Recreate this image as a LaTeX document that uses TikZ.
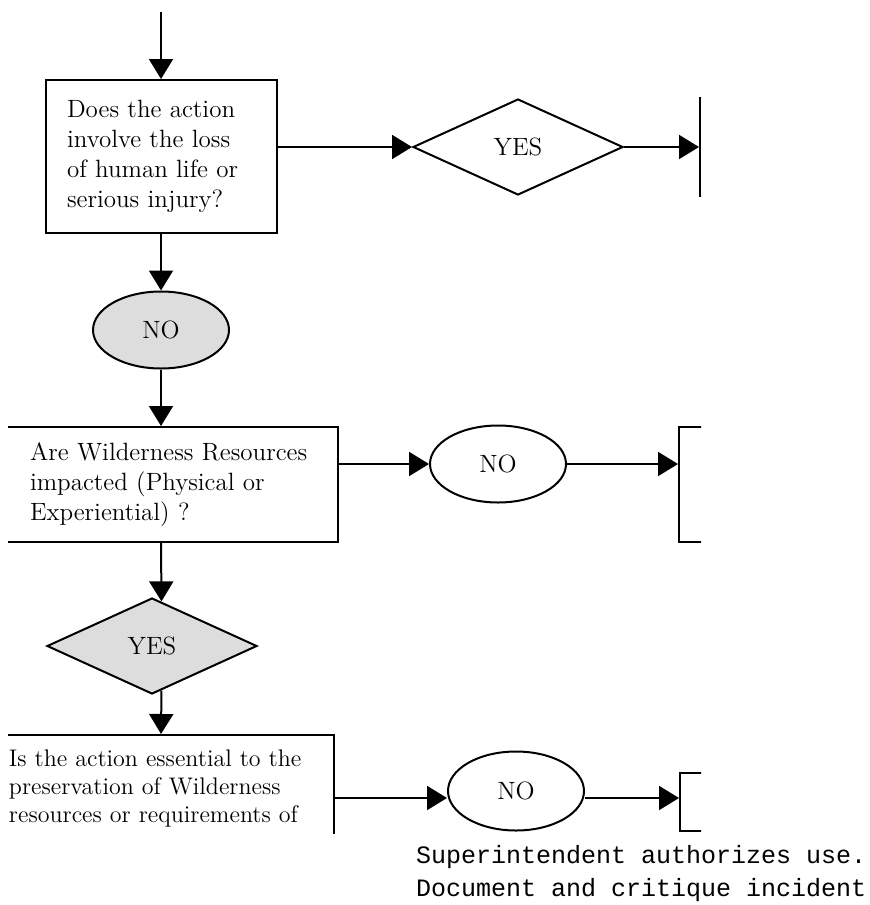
\documentclass[tikz,border=0pt]{standalone}
\usepackage{fontspec}
\setmonofont{Liberation Mono}
\usepackage{tikz}
\usetikzlibrary{arrows.meta,shapes.geometric}
\definecolor{FlowGray}{HTML}{DDDDDD}

\begin{document}
\begin{tikzpicture}[
    x=0.5pt, y=-0.5pt,
    line width=1pt,
    qbox/.style={draw, rectangle, align=left, inner ysep=0pt,
      font=\fontsize{12.5}{15}\selectfont},
    answer/.style={draw, inner sep=0pt, font=\fontsize{12.5}{14}\selectfont},
    yesdia/.style={answer, diamond, minimum width=105pt, minimum height=48pt},
    noell/.style={answer, ellipse, minimum width=68pt, minimum height=38.5pt},
    cutbox/.style={draw, rectangle, minimum width=100pt},
    arr/.style={-{Triangle[length=10pt,width=12pt]}}
  ]
  \useasboundingbox (0,0) rectangle (869,905);
  \coordinate (entry) at (161,12);
  \coordinate (spine) at (161,0);
  \coordinate (row1) at (0,147);
  \coordinate (row2) at (0,464);
  \coordinate (row3) at (0,798);

  % first question
  \node[qbox, minimum width=115.5pt, minimum height=76.5pt, text width=94.5pt,
    inner xsep=10.5pt] (q1) at (161.5,156.5)
    {Does the action\\involve the loss\\of human life or\\serious injury?};
  \node[yesdia] (yes1) at (518,147) {YES};
  \node[noell, fill=FlowGray] (no1) at (161,330) {NO};

  % boxes cut off by the page edge
  \begin{scope}
    \clip (8,0) rectangle (701,833);
    \node[qbox, minimum width=166pt, minimum height=57.5pt, text width=142pt,
      inner xsep=12pt] (q2) at (172,484.5)
      {Are Wilderness Resources\\impacted (Physical or\\Experiential) ?};
    \node[qbox, anchor=north west, font=\fontsize{12}{14}\selectfont,
      text width=161.5pt, inner xsep=1pt, inner ysep=7.2pt] (q3) at (6,734)
      {Is the action essential to the\\preservation of Wilderness\\resources or requirements of};
    \node[cutbox, minimum height=49pt] (act1) at (800,147) {};
    \node[cutbox, minimum height=57.5pt] (act2) at (779,484.5) {};
    \node[cutbox, minimum height=29pt] (act3) at (780,802) {};
  \end{scope}

  \node[yesdia, fill=FlowGray] (yes2) at (152,646) {YES};
  \node[noell] (no2) at (498,464) {NO};
  \node[noell, minimum height=39.5pt] (no3) at (516,791) {NO};

  \node[anchor=north west, align=left, inner sep=0pt,
    font=\ttfamily\fontsize{12.5}{16.5}\selectfont] (auth) at (415,844)
    {Superintendent authorizes use.\\Document and critique incident};

  % connectors
  \draw[arr] (entry) -- (q1.north -| entry);
  \draw[arr] (q1.east |- row1) -- (yes1.west);
  \draw[arr] (yes1.east) -- (act1.west);
  \draw[arr] (q1.south -| spine) -- (no1.north);
  \draw[arr] (no1.south) -- (q2.north -| spine);
  \draw[arr] (q2.east |- row2) -- (no2.west);
  \draw[arr] (no2.east) -- (act2.west |- row2);
  \draw[arr] (q2.south -| spine) -- (yes2.78.4);
  \draw[arr] (yes2.-78.4) -- (q3.north -| spine);
  \draw[arr] (q3.east |- row3) -- (no3.west |- row3);
  \draw[arr] (no3.east |- row3) -- (act3.west |- row3);
\end{tikzpicture}
\end{document}
